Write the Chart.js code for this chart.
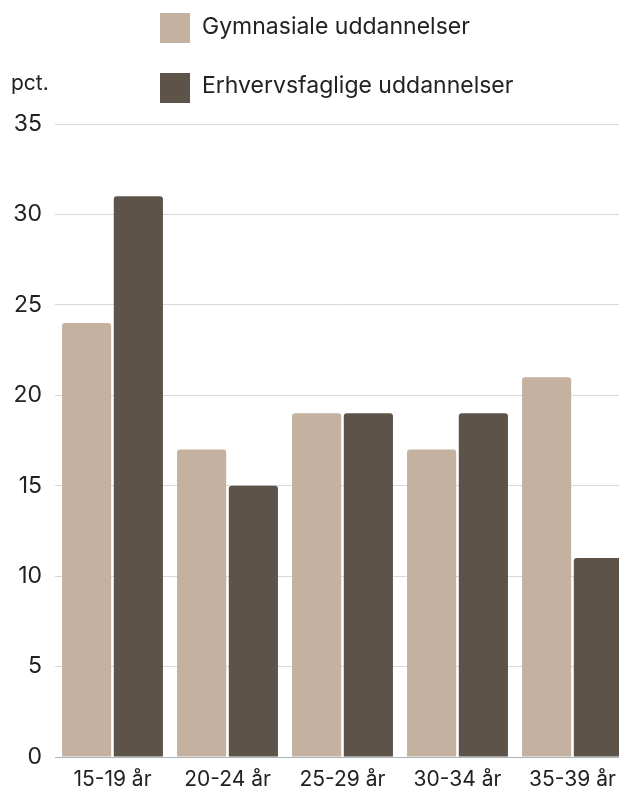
<!DOCTYPE html>
<html>
<head>
<meta charset="utf-8">
<script src="https://cdn.jsdelivr.net/npm/chart.js@4"></script>
<style>
  html, body { margin: 0; padding: 0; background: #fff; overflow: hidden; width: 619px; height: 790px; }
  #wrap { width: 640px; height: 790px; }
</style>
</head>
<body>
<div id="wrap"><canvas id="c" width="640" height="790"></canvas></div>
<script>
const categories = ['15-19 år', '20-24 år', '25-29 år', '30-34 år', '35-39 år'];
const gymnasiale = [24, 17, 19, 17, 21];
const erhvervsfaglige = [31, 15, 19, 19, 11];
const seriesNames = ['Gymnasiale uddannelser', 'Erhvervsfaglige uddannelser'];
const yUnit = 'pct.';
const yMax = 35;
const yStep = 5;

const colLight = '#C4B1A0';
const colDark = '#5D5349';
const fontFamily = 'Inter, "Noto Sans", sans-serif';

const legendPlugin = {
  id: 'customLegend',
  afterDraw(chart) {
    const ctx = chart.ctx;
    ctx.save();
    const rows = [13, 73];
    const baselines = [34, 93];
    chart.data.datasets.forEach((ds, i) => {
      const y = rows[i];
      ctx.fillStyle = ds.backgroundColor;
      ctx.fillRect(160, y, 30, 30);
      ctx.fillStyle = '#222';
      ctx.font = '23px ' + fontFamily;
      ctx.textBaseline = 'alphabetic';
      ctx.textAlign = 'left';
      ctx.fillText(ds.label, 202, baselines[i]);
    });
    ctx.font = '21px ' + fontFamily;
    ctx.fillStyle = '#222';
    ctx.textBaseline = 'alphabetic';
    ctx.fillText(yUnit, 11, 90);
    ctx.restore();
  }
};

new Chart(document.getElementById('c'), {
  type: 'bar',
  data: {
    labels: categories,
    datasets: [
      { label: seriesNames[0], data: gymnasiale, backgroundColor: colLight, borderRadius: 3, borderSkipped: 'start' },
      { label: seriesNames[1], data: erhvervsfaglige, backgroundColor: colDark, borderRadius: 3, borderSkipped: 'start' }
    ]
  },
  options: {
    responsive: false,
    animation: false,
    devicePixelRatio: 1,
    layout: { padding: { top: 124, right: 10, left: 0, bottom: 0 } },
    datasets: { bar: { categoryPercentage: 0.9, barPercentage: 0.95 } },
    plugins: { legend: { display: false }, tooltip: { enabled: false } },
    scales: {
      x: {
        grid: { display: false, drawTicks: false },
        border: { display: true, color: '#aab3b7', width: 1 },
        ticks: { color: '#222', font: { family: fontFamily, size: 21 }, padding: 10, maxRotation: 0 },
        afterFit(scale) { scale.height = 33; }
      },
      y: {
        min: 0, max: yMax,
        grid: {
          drawTicks: false,
          color: (c) => c.index === 0 ? '#aab3b7' : '#d8d8d8',
          lineWidth: 1
        },
        border: { display: false },
        ticks: { stepSize: yStep, color: '#222', font: { family: fontFamily, size: 23 }, padding: 13 },
        afterFit(scale) { scale.width = 55; }
      }
    }
  },
  plugins: [legendPlugin]
});
</script>
</body>
</html>
